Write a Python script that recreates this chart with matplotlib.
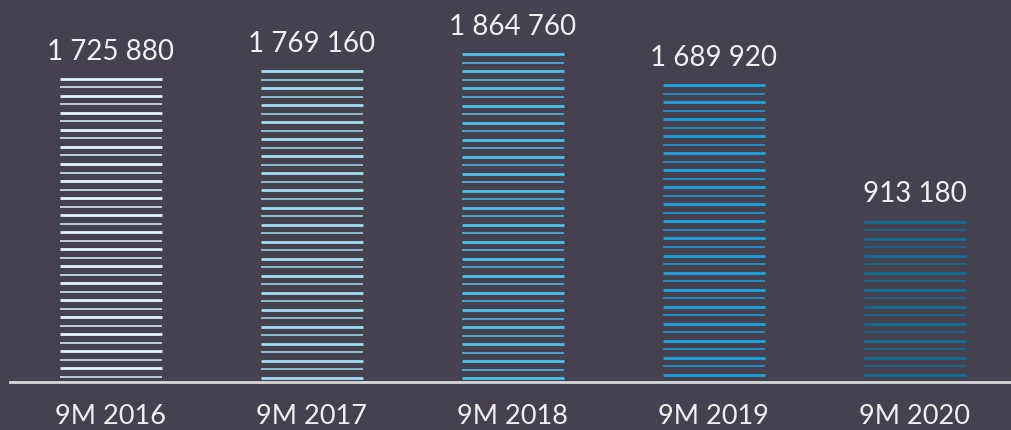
import numpy as np
import matplotlib.pyplot as plt

categories = ['9M 2016', '9M 2017', '9M 2018', '9M 2019', '9M 2020']
values = [1725880, 1769160, 1864760, 1689920, 913180]
labels = ['1 725 880', '1 769 160', '1 864 760', '1 689 920', '913 180']
colors = ['#dff3fb', '#a3ddf4', '#4dc0ec', '#17a4e0', '#0d6f96']

bg = '#45414f'
plt.rcParams['font.family'] = ['Lato', 'DejaVu Sans']

fig = plt.figure(figsize=(10.11, 4.31), dpi=100, facecolor=bg)
ax = fig.add_axes([10 / 1011, 48 / 431, 1 - 10 / 1011, 383 / 431])
ax.set_facecolor(bg)

x = np.arange(len(categories))
width = 0.51
step = 48500  # stripe spacing in data units

for i, (v, c) in enumerate(zip(values, colors)):
    ys = v - np.arange(0, v - step * 0.3, step)
    for k, y in enumerate(ys):
        lw = 2.0 if k % 2 == 0 else 1.1
        ax.hlines(y, i - width / 2, i + width / 2, color=c, lw=lw)
    ax.annotate(labels[i], (i, v), xytext=(0, 11), textcoords='offset points',
                ha='center', va='bottom', fontsize=20, color='#f0f0f0')

ax.set_xlim(-0.502, 4.478)
ax.set_ylim(0, 2180000)
ax.set_xticks(x)
ax.set_xticklabels(categories, fontsize=19.5, color='#f0f0f0')
ax.tick_params(axis='x', length=0, pad=15)
ax.set_yticks([])
for s in ['top', 'right', 'left']:
    ax.spines[s].set_visible(False)
ax.spines['bottom'].set_color('#d8d8d8')
ax.spines['bottom'].set_linewidth(2)

fig.savefig('out.png', dpi=100, facecolor=bg)
